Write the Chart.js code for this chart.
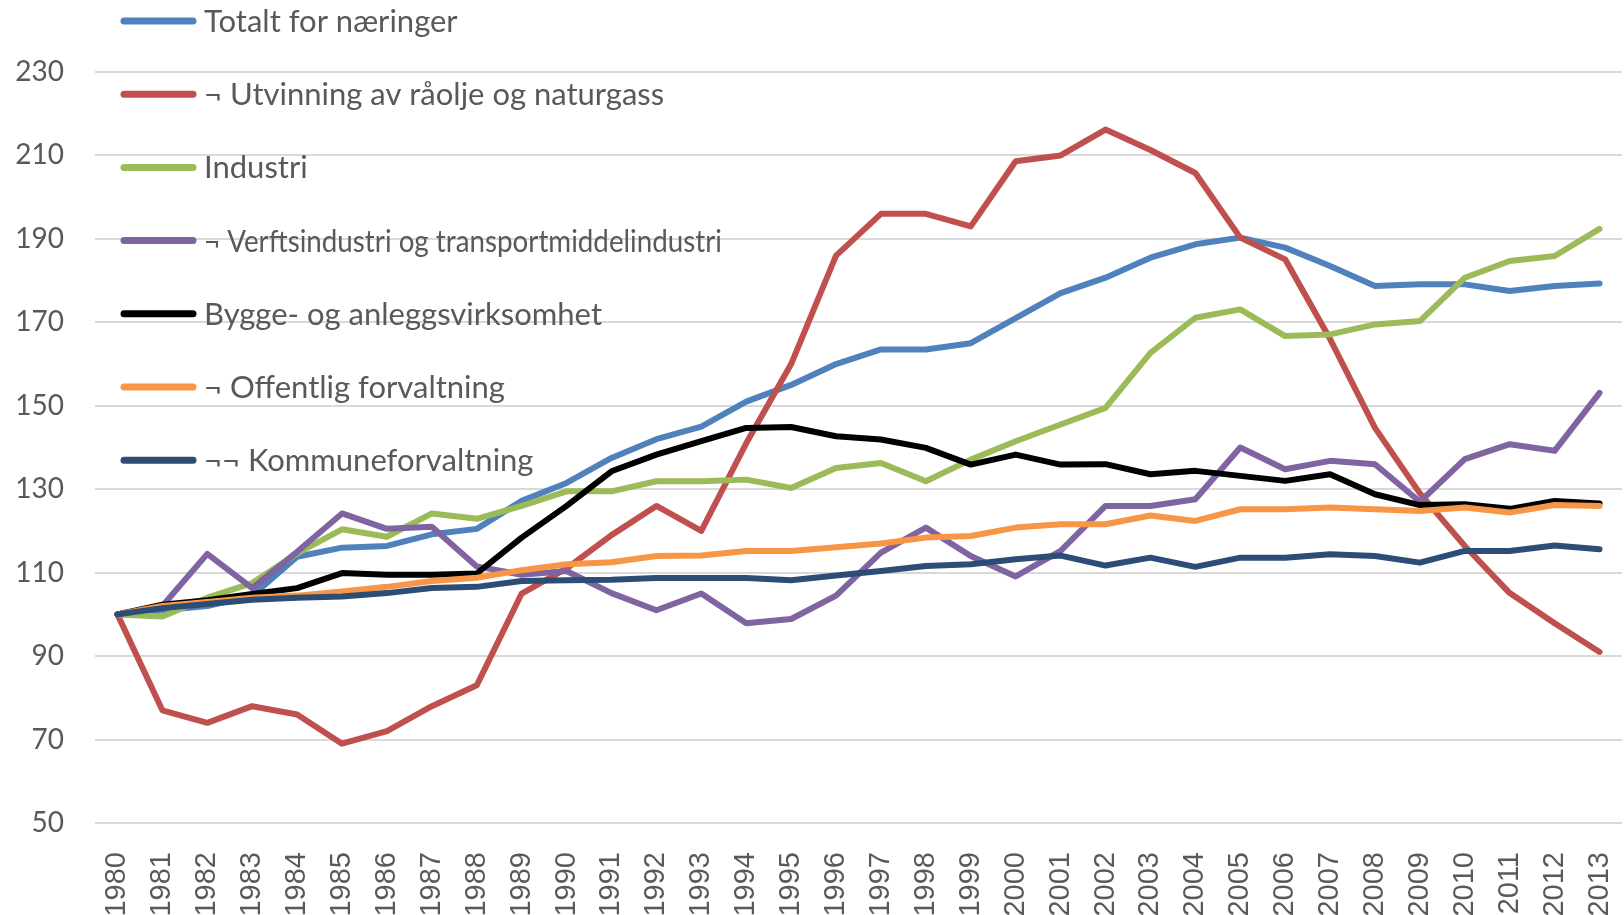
<!DOCTYPE html>
<html>
<head>
<meta charset="utf-8">
<script src="https://cdn.jsdelivr.net/npm/chart.js@4.4.0/dist/chart.umd.min.js"></script>
<style>
  html, body { margin: 0; padding: 0; background: #ffffff; }
  #wrap { width: 1624px; height: 915px; }
</style>
</head>
<body>
<div id="wrap"><canvas id="chart" width="1624" height="915"></canvas></div>
<script>
// Categories
const years = ['1980', '1981', '1982', '1983', '1984', '1985', '1986', '1987', '1988', '1989',
               '1990', '1991', '1992', '1993', '1994', '1995', '1996', '1997', '1998', '1999',
               '2000', '2001', '2002', '2003', '2004', '2005', '2006', '2007', '2008', '2009',
               '2010', '2011', '2012', '2013'];

// Series values (index, 1980 = 100)
const totalt = [100, 101, 102, 104.5, 113.8, 116, 116.4, 119.2, 120.5, 127.2,
                131.5, 137.5, 142, 145, 151, 155, 160, 163.5, 163.5, 165,
                171, 177, 180.7, 185.5, 188.7, 190.3, 187.9, 183.5, 178.7, 179.1,
                179.1, 177.5, 178.7, 179.3];
const utvinning = [100, 77, 74, 78, 76, 69, 72, 78, 83, 105,
                   111, 119, 126, 120, 141, 160, 186, 196, 196, 193,
                   208.6, 210, 216.2, 211.3, 205.8, 190.3, 185.1, 166, 144.7, 129,
                   116.4, 105.1, 97.9, 91];
const industri = [100, 99.5, 104, 107.5, 114.6, 120.4, 118.6, 124.2, 122.9, 126,
                  129.5, 129.5, 131.9, 131.9, 132.3, 130.3, 135.1, 136.3, 131.9, 137.1,
                  141.5, 145.5, 149.5, 162.7, 171.1, 173.1, 166.7, 167.1, 169.5, 170.3,
                  180.7, 184.7, 185.9, 192.4];
const verft = [100, 102, 114.5, 106.3, 115, 124.2, 120.5, 121, 111.5, 109.5,
               110.4, 105.1, 101, 105, 97.9, 98.9, 104.5, 114.8, 120.8, 114,
               109.1, 115.2, 126, 126, 127.6, 140, 134.8, 136.8, 136, 127,
               137.2, 140.8, 139.2, 153.1];
const bygge = [100, 102.3, 103.4, 104.9, 106.3, 109.9, 109.5, 109.5, 109.8, 118.4,
               126, 134.3, 138.3, 141.5, 144.7, 144.9, 142.7, 141.9, 139.9, 135.9,
               138.3, 135.9, 136, 133.6, 134.4, 133.2, 132, 133.6, 128.8, 126.2,
               126.4, 125.3, 127.2, 126.6];
const offentlig = [100, 102, 103, 104, 104.5, 105.5, 106.6, 108, 108.8, 110.6,
                   112, 112.5, 114, 114.1, 115.2, 115.2, 116.1, 117, 118.4, 118.8,
                   120.8, 121.6, 121.6, 123.7, 122.4, 125.2, 125.2, 125.6, 125.2, 124.8,
                   125.6, 124.4, 126.2, 126];
const kommune = [100, 101.5, 102.5, 103.5, 104, 104.3, 105.1, 106.3, 106.6, 108,
                 108.2, 108.3, 108.7, 108.7, 108.7, 108.2, 109.3, 110.4, 111.6, 112,
                 113.2, 114.1, 111.7, 113.6, 111.4, 113.6, 113.6, 114.4, 114, 112.4,
                 115.2, 115.2, 116.5, 115.6];

const seriesNames = ['Totalt for næringer',
                     '¬ Utvinning av råolje og naturgass',
                     'Industri',
                     '¬ Verftsindustri og transportmiddelindustri',
                     'Bygge- og anleggsvirksomhet',
                     '¬ Offentlig forvaltning',
                     '¬¬ Kommuneforvaltning'];
const seriesColors = ['#4F81BD', '#C0504D', '#9BBB59', '#8064A2', '#000000', '#F79646', '#2C4D75'];
const seriesData = [totalt, utvinning, industri, verft, bygge, offentlig, kommune];

// Y axis range
const yMin = 50;
const yMax = 230;
const yStep = 20;

const TEXT_COLOR = '#595959';
const GRID_COLOR = '#D9D9D9';

// Legend drawn inside the plot, top-left, one entry per row
const insideLegend = {
    id: 'insideLegend',
    beforeDatasetsDraw(chart) {
        const ctx = chart.ctx;
        ctx.save();
        chart.data.datasets.forEach((ds, i) => {
            const y = 21 + i * 73.2;
            ctx.strokeStyle = ds.borderColor;
            ctx.lineWidth = 7;
            ctx.lineCap = 'round';
            ctx.beginPath();
            ctx.moveTo(124, y);
            ctx.lineTo(193, y);
            ctx.stroke();
            ctx.fillStyle = TEXT_COLOR;
            ctx.font = '31px Lato, sans-serif';
            ctx.textBaseline = 'middle';
            ctx.textAlign = 'left';
            // the long label is squeezed in the original, keep it to the same width
            ctx.fillText(ds.label, 204, y + 1, 518);
        });
        ctx.restore();
    }
};

const datasets = seriesData.map((values, i) => ({
    label: seriesNames[i],
    data: values,
    borderColor: seriesColors[i],
    backgroundColor: seriesColors[i],
    borderWidth: 6,
    borderCapStyle: 'round',
    borderJoinStyle: 'round',
    pointRadius: 0,
    tension: 0,
    fill: false,
    order: seriesData.length - i   // later series on top, as in the original
}));

new Chart(document.getElementById('chart').getContext('2d'), {
    type: 'line',
    data: { labels: years, datasets: datasets },
    options: {
        responsive: false,
        animation: false,
        devicePixelRatio: 1,
        layout: { padding: { top: 72, right: 2, left: 0, bottom: 0 } },
        plugins: {
            legend: { display: false },
            tooltip: { enabled: false }
        },
        scales: {
            x: {
                type: 'category',
                offset: true,
                grid: { display: false },
                border: { display: false },
                ticks: {
                    color: TEXT_COLOR,
                    font: { family: '"Liberation Sans", Arial, sans-serif', size: 29 },
                    minRotation: 90,
                    maxRotation: 90,
                    autoSkip: false,
                    padding: 21
                },
                afterFit(scale) {
                    scale.height = 92;
                    scale.paddingLeft = 0;
                    scale.paddingRight = 0;
                }
            },
            y: {
                min: yMin,
                max: yMax,
                grid: { color: GRID_COLOR, lineWidth: 2, drawTicks: false },
                border: { display: false },
                ticks: {
                    stepSize: yStep,
                    color: TEXT_COLOR,
                    font: { family: 'Lato', size: 28 },
                    padding: 31
                },
                afterFit(scale) { scale.width = 95; }
            }
        }
    },
    plugins: [insideLegend]
});
</script>
</body>
</html>
